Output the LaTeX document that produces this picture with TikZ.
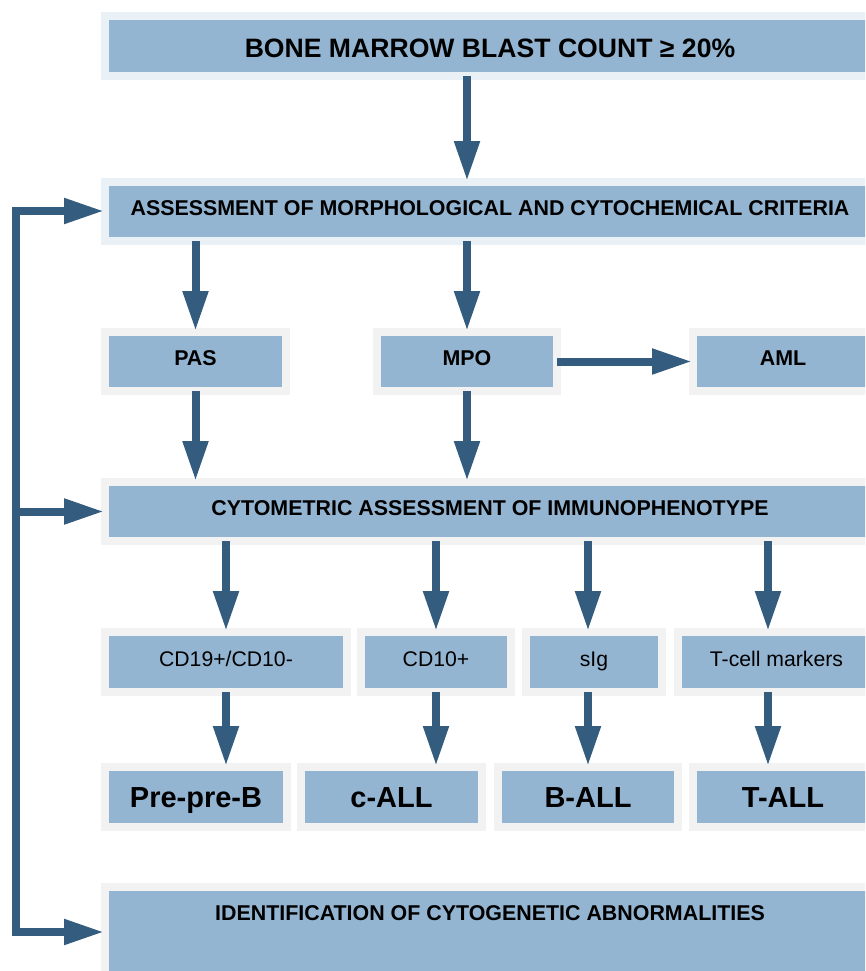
\documentclass[tikz,border=0pt]{standalone}
\usepackage{fontspec}
\setmainfont{Liberation Sans}
\usetikzlibrary{arrows.meta}
\definecolor{boxblue}{HTML}{94B5D2}
\definecolor{haloblue}{HTML}{E9F0F6}
\definecolor{halogray}{HTML}{F2F2F2}
\definecolor{arrowblue}{HTML}{335C7F}
\begin{document}
\begin{tikzpicture}[x=1pt,y=-1pt,
  box/.style={fill=boxblue, inner sep=0pt, outer sep=0pt,
    preaction={draw=#1, line width=16pt, line join=miter}},
  box/.default=halogray,
  bigtxt/.style={font=\bfseries\fontsize{26.6}{30}\selectfont, text height=24pt, text depth=0pt},
  hdrtxt/.style={font=\bfseries\fontsize{21.4}{25}\selectfont, text height=15pt, text depth=7pt},
  regtxt/.style={font=\fontsize{21.2}{25}\selectfont, text height=15pt, text depth=7pt},
  restxt/.style={font=\bfseries\fontsize{29}{33}\selectfont, text height=21pt, text depth=0pt},
  arr/.style={draw=arrowblue, line width=8pt, line join=miter,
    -{Triangle[length=40pt,width=24pt]}, shorten <=4pt, shorten >=5pt},
  arrl/.style={draw=arrowblue, line width=8pt, line join=miter,
    -{Triangle[length=40pt,width=24pt]}, shorten >=5pt}]
\useasboundingbox (0,0) rectangle (865,971);
\clip (0,0) rectangle (865,971);

% boxes
\node[box=haloblue, bigtxt, minimum width=762pt, minimum height=52pt] (bone) at (490,46) {BONE MARROW BLAST COUNT ≥ 20\%};
\node[box=haloblue, hdrtxt, minimum width=762pt, minimum height=51pt] (assess) at (490,211.5) {ASSESSMENT OF MORPHOLOGICAL AND CYTOCHEMICAL CRITERIA};

\node[box, hdrtxt, minimum width=173pt, minimum height=51pt] (pas) at (195.5,361.5) {PAS};
\node[box, hdrtxt, minimum width=172pt, minimum height=51pt] (mpo) at (467,361.5) {MPO};
\node[box, hdrtxt, minimum width=172pt, minimum height=51pt] (aml) at (783,361.5) {AML};

\node[box, hdrtxt, minimum width=762pt, minimum height=51pt] (cyto) at (490,511.5) {CYTOMETRIC ASSESSMENT OF IMMUNOPHENOTYPE};

\node[box, regtxt, minimum width=234pt, minimum height=52pt] (cd19) at (226,662) {CD19+/CD10-};
\node[box, regtxt, minimum width=142pt, minimum height=52pt] (cd10) at (436,662) {CD10+};
\node[box, regtxt, minimum width=128pt, minimum height=52pt] (sig) at (594,662) {sIg};
\node[box, regtxt, minimum width=189pt, minimum height=52pt] (tcell) at (776.5,662) {T-cell markers};

\node[box, restxt, minimum width=174pt, minimum height=52pt] (pre) at (196,797) {Pre-pre-B};
\node[box, restxt, minimum width=173pt, minimum height=52pt] (call) at (391.5,797) {c-ALL};
\node[box, restxt, minimum width=172pt, minimum height=52pt] (ball) at (588,797) {B-ALL};
\node[box, restxt, minimum width=172pt, minimum height=52pt] (tall) at (783,797) {T-ALL};

\node[box, minimum width=762pt, minimum height=110pt] (ident) at (490,946) {};
\node[hdrtxt, inner sep=0pt] (identtxt) at (490,916.5) {IDENTIFICATION OF CYTOGENETIC ABNORMALITIES};

% column coordinates
\coordinate (cA) at (467,0);
\coordinate (cE) at (588,0);
\coordinate (cF) at (768,0);
\coordinate (lt) at (15.5,211);
\coordinate (lb) at (15.5,932);

% arrows
\draw[arr] (bone.south -| cA) -- (assess.north -| cA);
\draw[arr] (assess.south -| pas.north) -- (pas.north);
\draw[arr] (assess.south -| mpo.north) -- (mpo.north);
\draw[arr] (mpo.east) -- (aml.west);
\draw[arr] (pas.south) -- (cyto.north -| pas.south);
\draw[arr] (mpo.south) -- (cyto.north -| mpo.south);
\draw[arr] (cyto.south -| cd19.north) -- (cd19.north);
\draw[arr] (cyto.south -| cd10.north) -- (cd10.north);
\draw[arr] (cyto.south -| cE) -- (sig.north -| cE);
\draw[arr] (cyto.south -| cF) -- (tcell.north -| cF);
\draw[arr] (cd19.south) -- (pre.north -| cd19.south);
\draw[arr] (cd10.south) -- (call.north -| cd10.south);
\draw[arr] (sig.south -| ball.north) -- (ball.north);
\draw[arr] (tcell.south -| cF) -- (tall.north -| cF);

% feedback loop
\draw[arrl] (lb) -- (lt) -- (assess.west |- lt);
\draw[arrl] (lt) -- (lb) -- (ident.west |- lb);
\draw[arrl] (lt |- cyto.west) -- (cyto.west);
\end{tikzpicture}
\end{document}
